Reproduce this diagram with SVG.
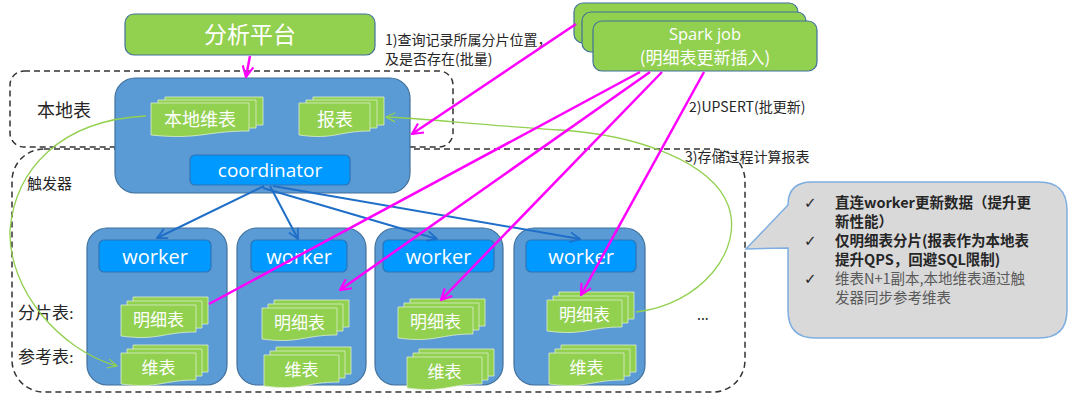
<svg xmlns="http://www.w3.org/2000/svg" xmlns:xlink="http://www.w3.org/1999/xlink" width="1080" height="400" viewBox="0 0 1080 400">
<style>
.gbox{fill:#92D050;stroke:#41719C;stroke-width:1.2}
.blue{fill:#5B9BD5;stroke:#41719C;stroke-width:1.2}
.inner{fill:#0099FF;stroke:#2E75B6;stroke-width:1.2}
.doc{fill:#92D050;stroke:#DDEFCB;stroke-width:0.8}
.dash{fill:none;stroke:#333;stroke-width:1.5;stroke-dasharray:6 4}
.wt{font-family:"Noto Sans CJK SC","Open Sans",sans-serif;fill:#fff;text-anchor:middle}
.lat{font-family:"Open Sans","Noto Sans CJK SC",sans-serif;fill:#fff;text-anchor:middle}
.lbl{font-family:"Liberation Serif","Noto Sans CJK SC",serif;fill:#262626}
.note{font-family:"Noto Sans CJK SC",sans-serif;fill:#262626;font-size:14px}
.co{font-family:"Noto Sans CJK SC",sans-serif;font-size:14.5px}
.ck{font-family:"DejaVu Sans",sans-serif;font-size:15px;fill:#262626}
.mag{fill:none;stroke:#FF00FF;stroke-width:2.5}
.blu{fill:none;stroke:#1F6FC8;stroke-width:2}
.grn{fill:none;stroke:#92D050;stroke-width:1.3}
</style>
<defs>
<marker id="am" viewBox="0 0 12 12" refX="11" refY="6" markerWidth="13" markerHeight="13" markerUnits="userSpaceOnUse" orient="auto"><path d="M1,1 L11,6 L1,11" fill="none" stroke="#FF00FF" stroke-width="2"/></marker>
<marker id="ab" viewBox="0 0 12 12" refX="11" refY="6" markerWidth="12" markerHeight="12" markerUnits="userSpaceOnUse" orient="auto"><path d="M1,1 L11,6 L1,11" fill="none" stroke="#1F6FC8" stroke-width="1.8"/></marker>
<marker id="ag" viewBox="0 0 12 12" refX="11" refY="6" markerWidth="11" markerHeight="11" markerUnits="userSpaceOnUse" orient="auto"><path d="M1,1 L11,6 L1,11" fill="none" stroke="#92D050" stroke-width="1.3"/></marker>
<path id="docA" d="M0,0 H98 V28 C54,28 49,37 0,32 Z"/>
<path id="docB" d="M0,0 H71 V28 C39,28 36,37 0,32 Z"/>
<path id="docC" d="M0,0 H75 V27 C41,27 38,36 0,31 Z"/>
</defs>
<rect width="1080" height="400" fill="#fff"/>

<!-- dashed zones -->
<g id="zone-trigger"><rect class="dash" x="12" y="149" width="733" height="243" rx="32"/></g>
<g id="zone-local"><rect class="dash" x="10" y="71" width="443" height="76" rx="14"/></g>

<g id="analytics">
<rect class="gbox" x="125" y="14" width="250" height="41" rx="9"/>
<text class="wt" x="250" y="43" font-size="23">分析平台</text>
</g>

<g id="spark">
<rect class="gbox" x="574" y="3" width="224" height="40" rx="9"/>
<rect class="gbox" x="582" y="12" width="224" height="40" rx="9"/>
<rect class="gbox" x="593" y="21" width="224" height="50" rx="9"/>
<text class="lat" x="705" y="40" font-size="16.5">Spark job</text>
<text class="wt" x="705" y="64" font-size="17">(明细表更新插入)</text>
</g>

<g id="local">
<rect class="blue" x="115" y="78" width="295" height="115" rx="20"/>
<use href="#docA" class="doc" x="165" y="97"/>
<use href="#docA" class="doc" x="158" y="100"/>
<use href="#docA" class="doc" x="151" y="103"/>
<text class="wt" x="200" y="126" font-size="18">本地维表</text>
<use href="#docB" class="doc" x="313" y="97"/>
<use href="#docB" class="doc" x="306" y="100"/>
<use href="#docB" class="doc" x="299" y="103"/>
<text class="wt" x="335" y="126" font-size="18">报表</text>
</g>

<g id="coordinator">
<rect class="inner" x="190" y="155" width="160" height="30" rx="5"/>
<text class="lat" x="270" y="177" font-size="19">coordinator</text>
</g>

<g id="worker1">
<rect class="blue" x="87" y="228" width="140" height="157" rx="20"/>
<rect class="inner" x="99" y="240" width="112" height="32" rx="5"/>
<text class="lat" x="155" y="264" font-size="20">worker</text>
<use href="#docC" class="doc" x="133" y="297"/><use href="#docC" class="doc" x="127" y="301"/><use href="#docC" class="doc" x="121" y="305"/>
<text class="wt" x="158.5" y="326" font-size="17">明细表</text>
<use href="#docC" class="doc" x="133" y="345"/><use href="#docC" class="doc" x="127" y="349"/><use href="#docC" class="doc" x="121" y="353"/>
<text class="wt" x="158.5" y="374" font-size="17">维表</text>
</g>

<g id="worker2">
<rect class="blue" x="237" y="228" width="129" height="157" rx="20"/>
<rect class="inner" x="251" y="240" width="96" height="32" rx="5"/>
<text class="lat" x="299" y="264" font-size="20">worker</text>
<use href="#docC" class="doc" x="274" y="300"/><use href="#docC" class="doc" x="268" y="304"/><use href="#docC" class="doc" x="262" y="308"/>
<text class="wt" x="299.5" y="329" font-size="17">明细表</text>
<use href="#docC" class="doc" x="276" y="347"/><use href="#docC" class="doc" x="270" y="351"/><use href="#docC" class="doc" x="264" y="355"/>
<text class="wt" x="301.5" y="376" font-size="17">维表</text>
</g>

<g id="worker3">
<rect class="blue" x="375" y="228" width="128" height="157" rx="20"/>
<rect class="inner" x="383" y="240" width="111" height="32" rx="5"/>
<text class="lat" x="438.5" y="264" font-size="20">worker</text>
<use href="#docC" class="doc" x="410" y="299"/><use href="#docC" class="doc" x="404" y="303"/><use href="#docC" class="doc" x="398" y="307"/>
<text class="wt" x="435.5" y="328" font-size="17">明细表</text>
<use href="#docC" class="doc" x="419" y="349"/><use href="#docC" class="doc" x="413" y="353"/><use href="#docC" class="doc" x="407" y="357"/>
<text class="wt" x="444.5" y="378" font-size="17">维表</text>
</g>

<g id="worker4">
<rect class="blue" x="514" y="228" width="131" height="157" rx="20"/>
<rect class="inner" x="526" y="240" width="110" height="32" rx="5"/>
<text class="lat" x="581" y="264" font-size="20">worker</text>
<use href="#docC" class="doc" x="559" y="292"/><use href="#docC" class="doc" x="553" y="296"/><use href="#docC" class="doc" x="547" y="300"/>
<text class="wt" x="584.5" y="321" font-size="17">明细表</text>
<use href="#docC" class="doc" x="561" y="345"/><use href="#docC" class="doc" x="555" y="349"/><use href="#docC" class="doc" x="549" y="353"/>
<text class="wt" x="586.5" y="374" font-size="17">维表</text>
</g>

<g id="labels">
<text class="lbl" x="37" y="117" font-size="18">本地表</text>
<text class="lbl" x="27" y="189" font-size="15">触发器</text>
<text class="lbl" x="18" y="319" font-size="17">分片表:</text>
<text class="lbl" x="18" y="363" font-size="17">参考表:</text>
<text class="note" x="385" y="45">1)查询记录所属分片位置，</text>
<text class="note" x="385" y="64">及是否存在(批量)</text>
<text class="note" x="689" y="112">2)UPSERT(批更新)</text>
<text class="note" x="685" y="162" font-size="15" fill="#404040">3)存储过程计算报表</text>
<text class="note" x="697" y="320" font-size="16">...</text>
</g>

<g id="callout">
<path d="M812,182 H1039 Q1067,182 1067,210 V310 Q1067,338 1039,338 H815 Q788,338 788,310 V248 L746,249 L788,205 Q788,182 812,182 Z" fill="#D9D9D9" stroke="#7FAEE0" stroke-width="1.5"/>
<g class="co">
<text class="ck" x="804" y="208">✓</text>
<text class="ck" x="804" y="246">✓</text>
<text class="ck" x="804" y="284">✓</text>
<text x="835" y="208" font-weight="bold" fill="#262626">直连worker更新数据（提升更</text>
<text x="835" y="227" font-weight="bold" fill="#262626">新性能）</text>
<text x="835" y="246" font-weight="bold" fill="#262626">仅明细表分片(报表作为本地表</text>
<text x="835" y="265" font-weight="bold" fill="#262626">提升QPS，回避SQL限制)</text>
<text x="835" y="284" fill="#595959">维表N+1副本,本地维表通过触</text>
<text x="835" y="303" fill="#595959">发器同步参考维表</text>
</g>
</g>

<g id="connectors">
<path class="grn" d="M146,116 C60,120 15,170 10,230 C8,290 60,350 117,366" marker-end="url(#ag)"/>
<path class="grn" d="M636,312 C700,305 745,250 728,205 C712,163 640,135 560,130 C480,125 420,118 386,117" marker-end="url(#ag)"/>
<line class="blu" x1="264" y1="186" x2="157" y2="238" marker-end="url(#ab)"/>
<line class="blu" x1="270" y1="186" x2="298" y2="239" marker-end="url(#ab)"/>
<line class="blu" x1="263" y1="188" x2="437" y2="239" marker-end="url(#ab)"/>
<line class="blu" x1="273" y1="186" x2="580" y2="239" marker-end="url(#ab)"/>
<line class="mag" x1="250" y1="56" x2="246" y2="77" marker-end="url(#am)"/>
<line class="mag" x1="576" y1="24" x2="412" y2="134" marker-end="url(#am)"/>
<line class="mag" x1="640" y1="72" x2="209" y2="304"/>
<line class="mag" x1="650" y1="72" x2="340" y2="290" marker-end="url(#am)"/>
<line class="mag" x1="662" y1="72" x2="441" y2="300" marker-end="url(#am)"/>
<line class="mag" x1="704" y1="72" x2="581" y2="295" marker-end="url(#am)"/>
</g>
</svg>
